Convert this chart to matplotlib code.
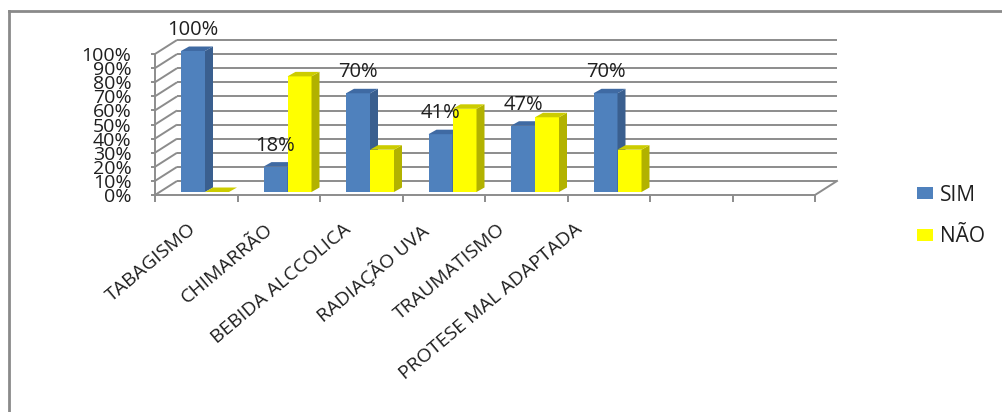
import matplotlib
matplotlib.use("Agg")
import matplotlib.pyplot as plt
from matplotlib.patches import Polygon, Patch
from matplotlib.lines import Line2D

categories = ["TABAGISMO", "CHIMARRÃO", "BEBIDA ALCCOLICA", "RADIAÇÃO UVA",
              "TRAUMATISMO", "PROTESE MAL ADAPTADA", "", ""]
sim_values = [100, 18, 70, 41, 47, 70]
nao_values = [0, 82, 30, 59, 53, 30]
sim_labels = ["100%", "18%", "70%", "41%", "47%", "70%"]
series_names = ["SIM", "NÃO"]
yticks = list(range(0, 101, 10))

plt.rcParams['font.family'] = ['Open Sans', 'DejaVu Sans']

W, H = 1002, 412
fig = plt.figure(figsize=(W / 100, H / 100), dpi=100)

# pixel geometry of the plot area
px_x0, px_unit = 155.0, 82.5      # front x=0 pixel, pixels per category
px_y0, px_per = 195.0, 1.41       # front y=0 pixel, pixels per percent
xlim = (0, 8.3)
ylim = (-6, 112)
left = (px_x0 + xlim[0] * px_unit) / W
right = (px_x0 + xlim[1] * px_unit) / W
bottom = (H - (px_y0 - ylim[0] * px_per)) / H
top = (H - (px_y0 - ylim[1] * px_per)) / H
ax = fig.add_axes([left, bottom, right - left, top - bottom])
ax.set_xlim(*xlim)
ax.set_ylim(*ylim)
ax.set_facecolor("none")

grid_c = "#8c8c8c"
txt_c = "#1f1f1f"
# wall depth (data units)
wdx = 22 / px_unit
wdy = 14 / px_per
ncat = len(categories)
for v in yticks:
    ax.plot([0, wdx], [v, v + wdy], color=grid_c, lw=1.4, zorder=1, solid_capstyle="butt")
    ax.plot([wdx, ncat + wdx], [v + wdy, v + wdy], color=grid_c, lw=1.4, zorder=1,
            solid_capstyle="butt")
ax.plot([ncat, ncat + wdx], [0, wdy], color=grid_c, lw=1.4, zorder=1)

# bars with 3D look
bar_w = 24 / px_unit
off_x = (181 - px_x0) / px_unit
base = 3 / px_per
bdx = 8 / px_unit
bdy = 4.5 / px_per
styles = [("#4F81BD", "#3A5F8F", "#3F6AA3"), ("#FFFF00", "#B2B200", "#CCCC00")]
series = [sim_values, nao_values]
ncol = len(sim_values)
for i in range(ncol):
    for s, vals in enumerate(series):
        face, side, topc = styles[s]
        x0 = i + off_x + s * bar_w
        h = vals[i]
        ax.bar(x0, h, width=bar_w, bottom=base, align="edge", color=face,
               linewidth=0, zorder=3 + i * 0.1 + s * 0.02)
        x1 = x0 + bar_w
        ytop = base + h
        ax.add_patch(Polygon([(x1, base), (x1 + bdx, base + bdy), (x1 + bdx, ytop + bdy),
                              (x1, ytop)], closed=True, facecolor=side, linewidth=0,
                             zorder=3 + i * 0.1 + s * 0.02 + 0.005))
        ax.add_patch(Polygon([(x0, ytop), (x1, ytop), (x1 + bdx, ytop + bdy),
                              (x0 + bdx, ytop + bdy)], closed=True, facecolor=topc,
                             linewidth=0, zorder=3 + i * 0.1 + s * 0.02 + 0.006))
    ax.annotate(sim_labels[i], (i + off_x + bar_w / 2, base + sim_values[i]),
                xytext=(0, 15), textcoords="offset points", ha="center", va="center",
                fontsize=14.5, color=txt_c, zorder=10)

# axes spines
for sp in ["top", "right"]:
    ax.spines[sp].set_visible(False)
ax.spines["left"].set_position(("data", 0))
ax.spines["bottom"].set_position(("data", 0))
ax.spines["left"].set_bounds(0, 100)
ax.spines["bottom"].set_bounds(0, ncat)
for sp in ["left", "bottom"]:
    ax.spines[sp].set_color(grid_c)
    ax.spines[sp].set_linewidth(1.4)

ax.set_yticks(yticks)
ax.set_yticklabels([f"{v}%" for v in yticks])
ax.tick_params(axis="y", length=3, width=1.4, color=grid_c, pad=14, labelsize=14,
               labelcolor=txt_c)
ax.set_xticks(range(ncat + 1))
ax.set_xticklabels([])
ax.tick_params(axis="x", which="major", length=5, width=1.4, color=grid_c)
# label anchors (Excel packs rotated labels slightly tighter than the bar slots)
label_pos = [0.40 + 0.936 * i for i in range(ncat)]
ax.set_xticks(label_pos, minor=True)
ax.set_xticklabels(categories, minor=True, rotation=40, ha="right",
                   rotation_mode="anchor", fontsize=14, color=txt_c)
ax.tick_params(axis="x", which="minor", length=0, pad=18)

handles = [Patch(facecolor=styles[0][0]), Patch(facecolor=styles[1][0])]
fig.legend(handles, series_names, loc="center left",
           bbox_to_anchor=(917 / W, (H - 216) / H), frameon=False, fontsize=15,
           handlelength=0.75, handleheight=0.5, handletextpad=0.35, labelspacing=1.0,
           borderpad=0, borderaxespad=0, labelcolor=txt_c)

# outer chart border (extends beyond the image on right and bottom)
fig.add_artist(Line2D([8.5 / W, 8.5 / W], [0, (H - 11) / H], transform=fig.transFigure,
                      color="#8a8a8a", lw=2))
fig.add_artist(Line2D([8.5 / W, 1], [(H - 11) / H, (H - 11) / H], transform=fig.transFigure,
                      color="#8a8a8a", lw=2))

fig.savefig("out.png", dpi=100)
